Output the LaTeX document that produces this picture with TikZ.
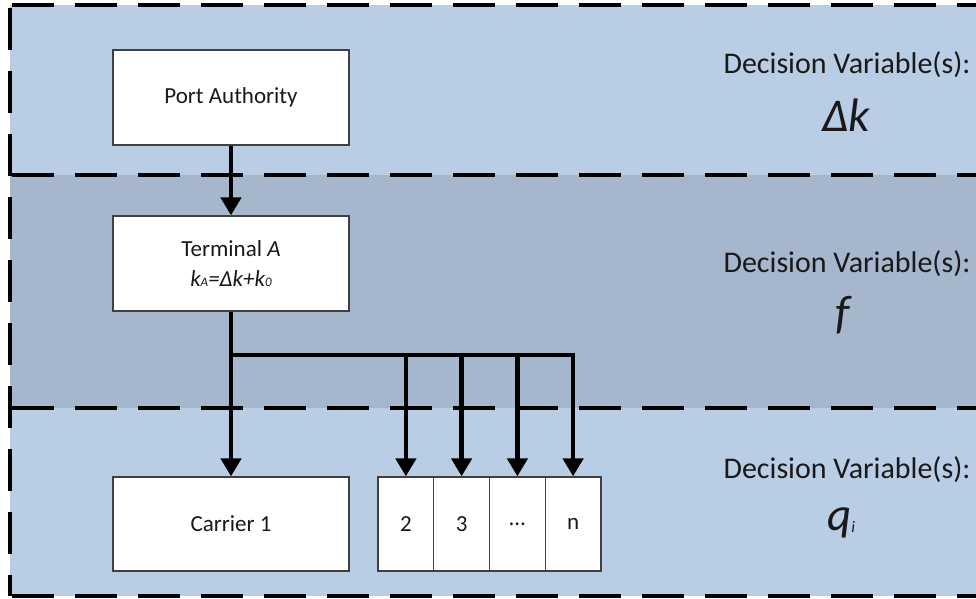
\documentclass[tikz,border=0pt]{standalone}
\usepackage{fontspec}
\setmainfont{Carlito}
\usetikzlibrary{arrows.meta}
\definecolor{bandlight}{RGB}{185,205,229}
\definecolor{banddark}{RGB}{166,182,204}
\definecolor{txt}{RGB}{25,25,25}
\tikzset{
  box/.style={draw=black!75, line width=1.3pt, fill=white, inner sep=0pt,
    minimum width=236pt, minimum height=95pt, align=center, text=txt,
    font=\fontsize{23}{30}\selectfont},
  cell/.style={draw=black!75, line width=1.3pt, fill=white, inner sep=0pt,
    minimum width=55.75pt, minimum height=94pt, text=txt,
    font=\fontsize{23}{30}\selectfont},
  conn/.style={line width=4.6pt, draw=black},
  arr/.style={conn, -{Triangle[width=20pt,length=18pt]}},
  dashline/.style={line width=3.2pt, draw=black, dash pattern=on 42pt off 21pt},
  dvlabel/.style={text=txt, font=\fontsize{30}{34}\selectfont, inner sep=0pt},
  dvvar/.style={text=txt, font=\fontsize{47}{50}\selectfont\itshape, inner sep=0pt}
}
\begin{document}
\begin{tikzpicture}[x=1pt,y=-1pt]
\useasboundingbox (0,0) rectangle (976,598);
% bands
\fill[white] (0,0) rectangle (976,598);
\fill[bandlight] (10,5) rectangle (976,175);
\fill[banddark] (10,175) rectangle (976,408);
\fill[bandlight] (10,408) rectangle (976,596);
% dashed borders
\draw[dashline] (12,5) -- (976,5);
\draw[dashline] (12,175) -- (976,175);
\draw[dashline] (12,408) -- (976,408);
\draw[dashline] (12,596) -- (976,596);
\draw[dashline] (10,8) -- (10,596);
% nodes
\node[box] (pa) at (231,97.5) {Port Authority};
\node[box] (ta) at (231,263.5) {Terminal \textit{A}\\\textit{k{\fontsize{13}{13}\selectfont A}=Δk+k{\fontsize{13}{13}\selectfont 0}}};
\node[box, minimum height=94pt] (c1) at (231,524) {Carrier 1};
\node[cell] (c2) at (405.9,524) {2};
\node[cell] (c3) at (461.6,524) {3};
\node[cell] (c4) at (517.4,524) {…};
\node[cell] (cn) at (573.1,524) {n};
% connectors
\coordinate (b0) at (231,355);
\coordinate (b2) at (405.9,355);
\coordinate (b3) at (461.6,355);
\coordinate (b4) at (517.4,355);
\coordinate (bn) at (573.1,355);
\draw[arr] (pa.south) -- (ta.north);
\draw[arr] (ta.south) -- (c1.north);
\draw[conn, line join=miter] (b0) -- (bn) -- ++(0,2);
\draw[arr] (b2) -- (c2.north);
\draw[arr] (b3) -- (c3.north);
\draw[arr] (b4) -- (c4.north);
\draw[arr] (bn) -- (cn.north);
% decision variables
\node[dvlabel] (dv1) at (847,65) {Decision Variable(s):};
\node[dvvar] (v1) at (846,115) {Δk};
\node[dvlabel] (dv2) at (847,264) {Decision Variable(s):};
\node[dvvar] (v2) at (843,315) {f};
\node[dvlabel] (dv3) at (847,470) {Decision Variable(s):};
\node[dvvar] (v3) at (841,523) {q{\fontsize{16}{16}\selectfont\raisebox{-2pt}{i}}};
\end{tikzpicture}
\end{document}
